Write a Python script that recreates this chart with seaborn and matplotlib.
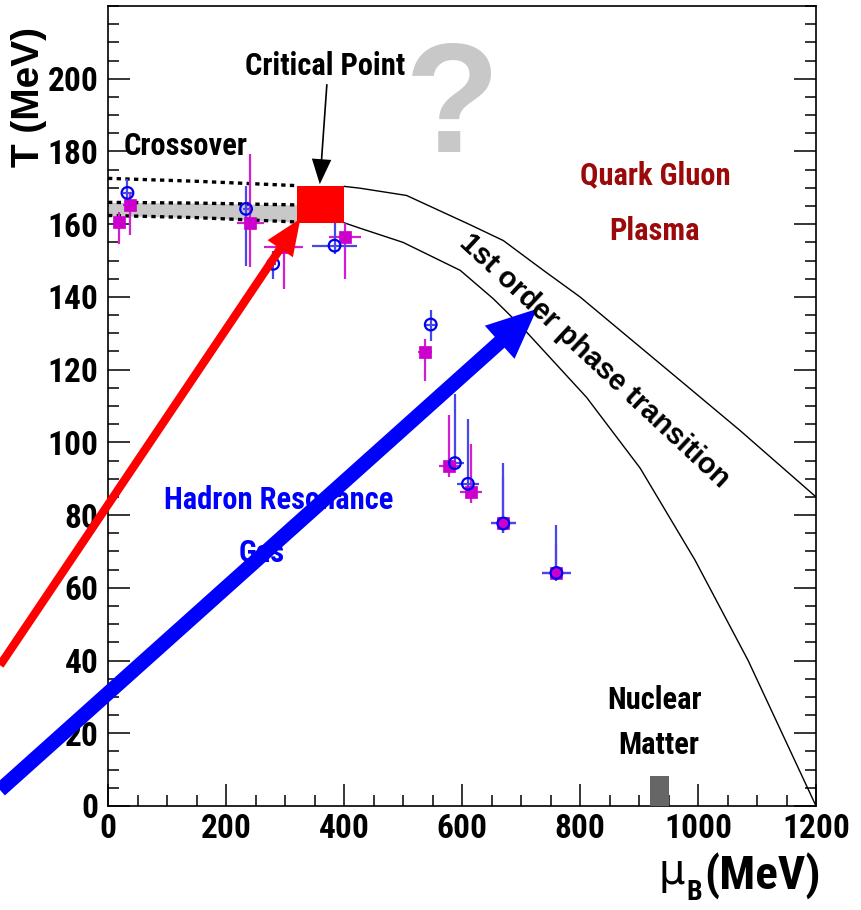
import matplotlib
matplotlib.use("Agg")
import matplotlib.pyplot as plt
import seaborn as sns
from matplotlib.patches import Rectangle
from matplotlib.ticker import MultipleLocator, FixedLocator

# ---- freeze-out points, set A (filled squares) ----
mu_sq = [19, 37, 241, 298, 402, 537, 578, 615, 670, 760]
T_sq = [160.7, 165.3, 160.2, 153.7, 156.4, 124.8, 93.4, 86.3, 77.7, 64.1]
T_sq_lo = [6.1, 8.4, 12.0, 11.5, 11.4, 7.8, 2.9, 3.1, 2.7, 2.0]
T_sq_hi = [2.6, 3.0, 19.1, 4.5, 3.8, 3.7, 14.0, 13.3, 12.8, 8.0]
mu_sq_err = [6, 11, 23, 33, 27, 12, 17, 19, 21, 24]

# ---- freeze-out points, set B (open circles) ----
mu_ci = [33, 234, 280, 384, 547, 588, 610, 670, 760]
T_ci = [168.6, 164.2, 149.1, 154.1, 132.4, 94.3, 88.6, 77.7, 64.1]
T_ci_lo = [4.9, 15.6, 4.1, 2.3, 4.4, 2.0, 1.8, 2.7, 2.1]
T_ci_hi = [3.9, 6.4, 3.6, 6.4, 3.9, 19.1, 17.7, 16.6, 13.1]
mu_ci_err = [8, 5, 5, 38, 11, 15, 19, 21, 24]

# ---- first-order transition band boundaries ----
mu_up = [400, 427, 506, 613, 670, 738, 800, 970, 1071, 1200]
T_up = [170.4, 169.9, 167.9, 159.9, 155.5, 147.3, 140.0, 117.0, 103.3, 85.0]
mu_lo = [400, 427, 500, 597, 653, 700, 811, 902, 995, 1085, 1200]
T_lo = [160.4, 158.9, 155.0, 147.3, 139.5, 132.0, 112.4, 92.9, 67.6, 40.0, 0.0]

# ---- crossover region (dotted) ----
mu_dot = [0, 150, 320]
T_dot_top = [172.6, 171.8, 170.6]
T_dot_mid = [166.0, 165.8, 165.3]
T_dot_bot = [162.4, 161.8, 160.6]

# ---- critical point and nuclear matter boxes ----
cp_mu = [320, 400]
cp_T = [160.2, 170.6]
nm_mu = [919, 950]
nm_T = [0, 8.3]

# ---- axis ticks ----
x_ticks = [0, 200, 400, 600, 800, 1000, 1200]
y_ticks = [0, 20, 40, 60, 80, 100, 120, 140, 160, 180, 200]

sns.set_theme(style="ticks")
COND = ["Roboto Condensed", "IBM Plex Sans Condensed", "Fira Sans Condensed", "DejaVu Sans"]
WIDE = ["Liberation Sans", "DejaVu Sans"]
plt.rcParams["font.family"] = COND
plt.rcParams["font.weight"] = "bold"
for key in ("text.color", "axes.labelcolor", "xtick.color", "ytick.color",
            "xtick.labelcolor", "ytick.labelcolor", "axes.edgecolor"):
    plt.rcParams[key] = "black"

W, H = 861, 910
fig = plt.figure(figsize=(W / 100, H / 100), dpi=100)
fig.patch.set_facecolor("white")
ax = fig.add_axes([108 / W, (H - 806) / H, (816 - 108) / W, (806 - 6) / H])
ax.set_facecolor("white")

ax.set_xlim(0, 1200)
ax.set_ylim(0, 220)

# crossover band and dotted boundaries
ax.fill_between(mu_dot, T_dot_mid, T_dot_bot, color="#c8c8c8", lw=0, zorder=1)
for tt in (T_dot_top, T_dot_mid, T_dot_bot):
    sns.lineplot(x=mu_dot, y=tt, ax=ax, color="black", lw=2.4,
                 linestyle=(0, (1.3, 1.3)), zorder=2)

# transition lines
sns.lineplot(x=mu_up, y=T_up, ax=ax, color="black", lw=1.0, sort=False, zorder=2)
sns.lineplot(x=mu_lo, y=T_lo, ax=ax, color="black", lw=1.0, sort=False, zorder=2)

# error bars
ax.errorbar(mu_sq, T_sq, yerr=[T_sq_lo, T_sq_hi], xerr=mu_sq_err, fmt="none",
            ecolor="#d020d0", elinewidth=1.6, capsize=0, zorder=3)
ax.errorbar(mu_ci, T_ci, yerr=[T_ci_lo, T_ci_hi], xerr=mu_ci_err, fmt="none",
            ecolor="#4848e8", elinewidth=1.6, capsize=0, zorder=4)

sns.scatterplot(x=mu_sq, y=T_sq, ax=ax, marker="s", s=80, color="#cc00cc",
                edgecolor="#cc00cc", linewidth=0.5, zorder=5)
ax.scatter(mu_ci, T_ci, marker="o", s=70, facecolors="none",
           edgecolors="#0000ee", linewidths=1.6, zorder=6)

# critical point and nuclear matter
ax.add_patch(Rectangle((cp_mu[0], cp_T[0]), cp_mu[1] - cp_mu[0], cp_T[1] - cp_T[0],
                       facecolor="#ff0000", edgecolor="none", zorder=9))
ax.add_patch(Rectangle((nm_mu[0], nm_T[0]), nm_mu[1] - nm_mu[0], nm_T[1] - nm_T[0],
                       facecolor="#666666", edgecolor="none", zorder=9))

# arrows
ax.annotate("", xy=(326, 161.5), xytext=(-183, 38.7), annotation_clip=False,
            arrowprops=dict(facecolor="#ff0000", edgecolor="none", width=6,
                            headwidth=22, headlength=26, shrink=0), zorder=8)
ax.annotate("", xy=(727, 136.7), xytext=(-183, 4.4), annotation_clip=False,
            arrowprops=dict(facecolor="#0000ff", edgecolor="none", width=10.5,
                            headwidth=32, headlength=36, shrink=0), zorder=8)
ax.annotate("", xy=(359, 171), xytext=(371, 198.5), annotation_clip=False,
            arrowprops=dict(facecolor="black", edgecolor="none", width=1.2,
                            headwidth=14, headlength=18, shrink=0), zorder=10)

# labels inside the diagram
ax.text(368, 203.6, "Critical Point", fontsize=22, ha="center", va="center", zorder=11)
ax.text(131, 181.6, "Crossover", fontsize=22, ha="center", va="center", zorder=11)
ax.text(927, 173.4, "Quark Gluon", fontsize=22, ha="center", va="center",
        color="#9b0a0a", zorder=11)
ax.text(927, 158.0, "Plasma", fontsize=22, ha="center", va="center",
        color="#9b0a0a", zorder=11)
ax.text(290, 84.1, "Hadron Resonance", fontsize=22, ha="center", va="center",
        color="#0000ff", zorder=7)
ax.text(261, 69.5, "Gas", fontsize=22, ha="center", va="center",
        color="#0000ff", zorder=7)
ax.text(927, 29.1, "Nuclear", fontsize=22, ha="center", va="center", zorder=11)
ax.text(934, 16.8, "Matter", fontsize=22, ha="center", va="center", zorder=11)
ax.text(825, 122.5, "1st order phase transition", fontsize=21, ha="center",
        va="center", rotation=-43, rotation_mode="anchor", family=WIDE, zorder=11)
ax.text(583, 191, "?", fontsize=112, ha="center", va="center", color="#c8c8c8",
        fontweight="bold", family=WIDE, zorder=1)

# axes styling
ax.xaxis.set_major_locator(FixedLocator(x_ticks))
ax.xaxis.set_minor_locator(MultipleLocator(50))
ax.yaxis.set_major_locator(FixedLocator(y_ticks))
ax.yaxis.set_minor_locator(MultipleLocator(5))
ax.tick_params(which="both", direction="in", left=True, right=True, top=False,
               bottom=True, color="black", width=1.1, labelsize=24, labelcolor="black")
ax.tick_params(which="major", length=16)
ax.tick_params(which="minor", length=8)
ax.tick_params(axis="x", pad=5)
ax.tick_params(axis="y", pad=7)
for lab in ax.get_xticklabels() + ax.get_yticklabels():
    lab.set_fontweight("bold")
for sp in ax.spines.values():
    sp.set_visible(True)
    sp.set_color("black")
    sp.set_linewidth(1.2)
ax.set_xlabel("")
ax.set_ylabel("")
ax.grid(False)

# axis titles
fig.text(29 / W, 1 - 97 / H, "T (MeV)", rotation=90, ha="center", va="center",
         fontsize=28, fontweight="bold", family=WIDE)
fig.text(672 / W, 1 - 872 / H, "\u03bc", ha="center", va="center", fontsize=30,
         fontweight="normal", family=["DejaVu Sans"])
fig.text(694 / W, 1 - 893 / H, "B", ha="center", va="center", fontsize=20,
         fontweight="bold")
fig.text(704 / W, 1 - 876 / H, "(MeV)", ha="left", va="center", fontsize=34,
         fontweight="bold")

fig.savefig("out.png", dpi=100, facecolor="white")
